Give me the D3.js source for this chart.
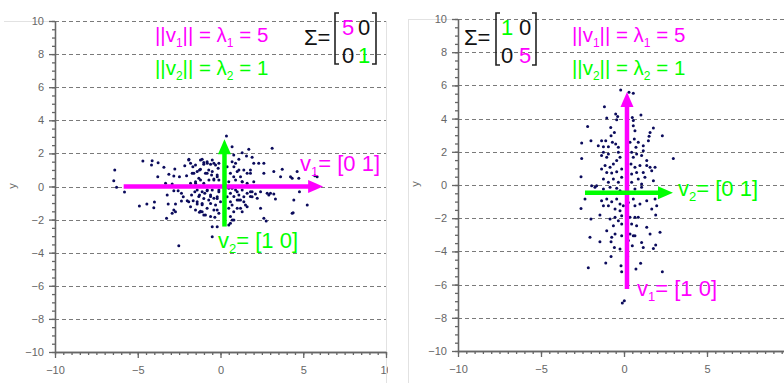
<!DOCTYPE html>
<html>
<head>
<meta charset="utf-8">
<script src="https://cdn.jsdelivr.net/npm/d3@7"></script>
<style>
  body { margin: 0; background: #fff; }
  svg { display: block; font-family: "Liberation Sans", Arial, sans-serif; }
</style>
</head>
<body>
<svg id="chart" width="784" height="383"></svg>
<script>
// axis ticks and grid
const majorTicksY = [-10, -8, -6, -4, -2, 0, 2, 4, 6, 8, 10];
const majorTicksX = [-10, -5, 0, 5, 10];
const minorTicks = d3.range(-10, 10.01, 0.5);
const gridValues = [-8, -6, -4, -2, 0, 2, 4, 6, 8, 10];

// samples, cov = [[5,0],[0,1]]
const leftPoints = [
  [-6.39,1.0],[-6.45,0.35],[-6.28,-0.05],[-5.8,-0.33],[-4.9,-1.18],[-4.45,-1.06],[-3.99,-0.94],[-4.03,-1.28],
  [-4.69,1.54],[-4.13,1.56],[-4.17,1.3],[-3.77,1.44],[-3.42,1.16],[-3.79,0.59],[-3.12,0.74],[-2.76,1.06],
  [-3.32,0.19],[-2.92,0.15],[-3.22,-0.51],[-2.82,-0.25],[-2.56,-0.25],[-2.48,0.59],[-2.82,0.63],[-2.16,1.26],
  [-1.92,1.6],[-1.67,1.2],[-2.05,0.65],[-2.36,-0.41],[-2.25,-0.62],[-2.01,-0.86],[-2.36,-0.88],[-3.16,-1.06],
  [-2.72,-1.06],[-2.82,-1.42],[-2.92,-1.62],[-2.72,-1.52],[-3.26,-1.92],[-2.52,-3.58],[-1.75,-0.51],[-1.55,-0.31],
  [-1.65,-0.86],[-1.92,-0.92],[-1.41,-1.06],[-1.11,-1.02],[-1.27,-1.56],[-1.11,-1.52],[-0.91,-1.72],[-0.5,-2.43],
  [-0.5,-3.03],[-0.34,-1.86],[-0.2,-1.42],[-1.51,0.29],[-1.31,0.5],[-1.61,0.8],[-1.27,1.0],[-1.01,1.34],
  [-0.8,1.4],[-1.11,1.64],[-0.5,1.6],[-0.4,1.4],[-0.71,1.0],[-0.91,0.8],[-0.54,0.69],[-0.4,0.39],
  [-1.01,0.19],[-0.8,-0.21],[-0.6,-0.51],[-0.4,-0.71],[-0.2,-0.62],[-0.71,-0.82],[-0.95,-0.41],[-0.14,1.1],
  [-0.2,0.59],[-0.1,-0.21],[-1.27,-0.51],[-1.81,-1.22],[-1.51,-1.42],
  [0.7,2.4],[0.36,3.05],[1.31,2.04],[1.71,2.25],[1.91,1.76],[1.57,1.84],[1.11,1.64],[0.8,1.9],
  [0.91,1.4],[3.12,2.31],[2.31,1.4],[2.62,1.4],[2.62,0.8],[3.22,0.9],[3.73,1.04],[3.63,0.59],
  [4.23,0.59],[4.63,0.9],[5.84,0.59],[4.73,0.5],[2.82,-0.41],[3.02,-0.41],[3.22,-0.45],[2.92,-0.51],
  [2.42,-0.31],[2.11,-0.45],[1.81,-0.31],[1.91,-0.62],[2.42,-1.32],[3.32,-0.76],[4.43,-0.82],[5.24,-1.12],
  [4.33,-1.62],[2.62,-1.92],[0.71,-2.02],[0.6,-2.22],[0.8,-1.52],[1.21,-1.32],[1.51,-1.12],[1.01,-0.82],
  [0.6,-0.92],[1.11,-0.51],[0.91,-0.21],[0.6,-0.41],[1.31,0.29],[0.8,0.59],[0.6,0.8],[0.5,0.29],
  [1.41,1.0],[1.11,1.0],[1.81,0.8],[2.01,0.29],[1.61,0.19],[1.21,-0.82],[1.41,-0.62],[2.22,-0.71],
  [0.5,-1.32],[0.4,-0.62],[0.5,-0.11],[0.4,1.2],[0.3,0.09],
  [-1.91,1.64],[-1.81,1.4],[-1.51,1.3],[-1.21,1.6],[-1.01,1.45],[-0.81,1.5],[-0.6,1.35],[-0.3,1.3],
  [-0.1,1.4],[-1.21,1.04],[-1.41,0.9],[-1.71,0.8],[-0.81,0.8],[-0.5,0.9],[-0.2,0.69],[-0.1,0.39],
  [-0.4,0.45],[-0.7,0.39],[-1.21,0.39],[-1.51,0.2],[-1.81,0.19],[-1.41,-0.21],[-1.11,-0.31],[-0.81,-0.25],
  [-0.5,-0.21],[-0.1,-0.31],[-1.31,-0.61],[-1.01,-0.72],[-0.6,-0.61],[-0.2,-0.72],[-1.41,-0.92],[-1.11,-1.1],
  [-0.6,-1.02],[-0.3,-1.12],[0.0,-0.92],[-0.81,-1.32],[-0.4,-1.42],[-1.21,-1.5],[-0.1,-1.62],[-0.6,-1.82],
  [-1.01,-1.72],[0.7,1.5],[0.81,1.2],[1.01,0.9],[1.21,0.59],[0.91,0.39],[1.31,0.29],[1.61,0.8],
  [1.81,1.0],[2.01,1.4],[0.7,-0.11],[1.01,-0.31],[1.31,-0.21],[1.61,-0.41],[1.91,-0.31],[0.81,-0.61],
  [1.11,-0.82],[1.41,-0.92],[1.81,-0.61],[0.7,-1.12],[1.01,-1.32],[1.31,-1.52],[1.61,-1.22],[0.6,-1.82],
  [0.81,-2.02],[0.5,-2.33],[2.76,-2.08],[4.77,-0.31],[5.7,0.65],[-0.2,-2.43],[4.39,-1.58],[4.33,0.5]
];

// samples, cov = [[1,0],[0,5]]
const rightPoints = [
  [-0.2,5.72],[0.3,5.58],[0.56,5.52],[-1.18,4.72],[-0.5,4.28],[-0.38,4.13],[-1.04,4.03],[-0.44,3.93],
  [0.5,4.07],[0.56,3.88],[1.02,4.21],[-2.19,3.53],[-0.8,3.47],[-0.58,3.17],[0.56,3.57],[0.66,3.27],
  [1.77,3.43],[1.57,3.17],[2.31,2.97],[-1.99,2.67],[-2.55,2.53],[-1.35,2.67],[-1.1,2.67],[-0.78,2.97],
  [-0.7,2.57],[-0.5,2.47],[-0.94,2.31],[-1.24,2.31],[-1.55,2.37],[-0.34,2.27],[0.62,2.77],[0.36,2.57],
  [0.86,2.57],[0.72,2.27],[1.51,2.93],[1.47,2.67],[1.16,2.37],[-1.24,1.97],[-0.94,1.87],[-1.04,1.67],
  [-1.35,1.77],[-0.34,1.97],[-0.24,1.67],[-0.44,1.47],[-0.64,1.27],[-1.14,1.17],[-0.84,1.07],[-1.35,0.96],
  [-1.04,0.76],[-0.74,0.72],[-0.44,0.8],[-0.14,0.96],[0.46,1.97],[0.76,1.87],[0.56,1.67],[1.06,1.77],
  [1.16,2.07],[0.42,1.27],[0.66,1.07],[0.96,1.17],[0.76,0.76],[0.46,0.66],[1.37,1.17],[1.57,1.07],
  [1.87,1.07],[1.37,1.47],[1.67,0.86],[1.16,0.76],[1.26,0.46],[0.86,0.36],[2.97,1.6],[-2.55,1.6],
  [-2.59,0.5],[-1.95,-0.04],[-1.65,-0.04],[-1.24,0.36],[-0.94,0.16],[-0.64,0.36],[-0.34,0.16],[-0.14,0.46],
  [0.46,0.16],[1.06,0.06],[1.77,0.26],
  [-1.75,-0.14],[-1.24,-0.24],[-0.84,-0.14],[-0.44,-0.2],[-0.24,-0.34],[0.66,-0.24],[1.06,-0.14],[-2.35,-0.85],
  [-2.59,-1.41],[-1.35,-0.95],[-1.04,-0.85],[-0.74,-1.01],[-0.44,-0.85],[-0.24,-1.15],[-0.94,-1.25],[-1.24,-1.25],
  [-0.54,-1.45],[-0.24,-1.55],[-0.04,-1.25],[0.26,-1.05],[0.56,-0.85],[0.66,-1.25],[0.96,-1.15],[1.37,-0.95],
  [1.87,-0.85],[1.67,-1.45],[1.97,-1.25],[1.91,-1.81],[-1.99,-2.05],[-1.45,-1.81],[-0.84,-2.05],[-0.54,-1.95],
  [-0.14,-1.85],[-0.34,-2.15],[-0.64,-2.45],[-0.14,-2.35],[0.36,-1.95],[0.66,-1.95],[0.86,-1.95],[0.46,-2.35],
  [0.76,-2.45],[1.37,-2.55],[-1.04,-2.75],[-0.54,-2.95],[-0.14,-3.05],[0.36,-2.95],[0.56,-3.05],[0.66,-3.05],
  [1.57,-2.95],[2.17,-2.85],[-2.05,-3.15],[-1.45,-3.42],[-0.74,-3.15],[-0.78,-3.42],[-0.58,-3.76],[-0.24,-3.86],
  [0.26,-3.35],[0.5,-3.66],[1.06,-3.46],[1.16,-3.76],[1.77,-3.82],[1.91,-3.62],[-0.78,-4.3],[0.22,-4.32],
  [-1.1,-4.7],[-2.15,-4.98],[-0.18,-4.86],[-0.14,-5.22],[0.72,-5.06],[1.0,-4.72],[2.31,-5.22],[0.02,-6.97],
  [-0.1,-7.11]
];

// principal vectors drawn from the sample mean
const leftArrows = [
  { name: "v1", from: [-5.85, 0.0], to: [6.2, 0.0] },
  { name: "v2", from: [0.24, -2.42], to: [0.24, 2.85] }
];
const rightArrows = [
  { name: "v1", from: [0.18, -6.27], to: [0.18, 5.6] },
  { name: "v2", from: [-2.35, -0.46], to: [2.95, -0.46] }
];

const leftMatrix = [["5", "0"], ["0", "1"]];
const rightMatrix = [["1", "0"], ["0", "5"]];

const MAG = "#ff00ff", GRN = "#00ff00";
const vecColor = { v1: MAG, v2: GRN };

const svg = d3.select("#chart");
const defs = svg.append("defs");

function drawPanel(p) {
  defs.append("clipPath").attr("id", p.id + "-clip")
    .append("rect").attr("x", p.clip[0]).attr("y", 0).attr("width", p.clip[1] - p.clip[0]).attr("height", 383);
  const g = svg.append("g").attr("clip-path", `url(#${p.id}-clip)`);

  const x = d3.scaleLinear().domain([-10, 10]).range([p.x0, p.x1]);
  const y = d3.scaleLinear().domain([-10, 10]).range([p.y1, p.y0]);

  // light frame
  p.frame.forEach(f => {
    g.append("line").attr("x1", f[0]).attr("y1", f[1]).attr("x2", f[2]).attr("y2", f[3])
      .attr("stroke", "#e2e2e2").attr("stroke-width", 1);
  });

  g.append("g").selectAll("line").data(gridValues).enter().append("line")
    .attr("x1", p.x0).attr("x2", p.x1)
    .attr("y1", d => Math.round(y(d)) + 0.5).attr("y2", d => Math.round(y(d)) + 0.5)
    .attr("stroke", "#7a7a7a").attr("stroke-dasharray", "4,3");

  // axes
  const axY = g.append("g").attr("transform", `translate(${p.x0},0)`)
    .call(d3.axisLeft(y).tickValues(majorTicksY).tickSize(6).tickSizeOuter(0).tickPadding(5).tickFormat(d3.format("d")));
  const axYm = g.append("g").attr("transform", `translate(${p.x0},0)`)
    .call(d3.axisLeft(y).tickValues(minorTicks).tickSize(3).tickSizeOuter(0).tickFormat(""));
  const axX = g.append("g").attr("transform", `translate(0,${p.y1})`)
    .call(d3.axisBottom(x).tickValues(majorTicksX).tickSize(6).tickSizeOuter(0).tickPadding(8).tickFormat(d3.format("d")));
  const axXm = g.append("g").attr("transform", `translate(0,${p.y1})`)
    .call(d3.axisBottom(x).tickValues(minorTicks).tickSize(3).tickSizeOuter(0).tickFormat(""));
  [axY, axYm, axX, axXm].forEach(a => {
    a.selectAll("path,line").attr("stroke", "#666").attr("stroke-width", 1.3);
    a.selectAll("text").attr("fill", "#666").style("font-size", "11px").style("font-family", "'Liberation Sans', Arial, sans-serif");
  });

  g.append("text").attr("transform", `translate(${p.yLabel[0]},${p.yLabel[1]}) rotate(-90)`)
    .attr("text-anchor", "middle").attr("fill", "#666").style("font-size", "11px").text("y");
  g.append("text").attr("x", (p.x0 + p.x1) / 2).attr("y", p.y1 + 38)
    .attr("text-anchor", "middle").attr("fill", "#666").style("font-size", "11px").text("x");

  // scatter
  g.append("g").selectAll("circle").data(p.points).enter().append("circle")
    .attr("cx", d => x(d[0])).attr("cy", d => y(d[1])).attr("r", 1.5).attr("fill", "#0b0b5c");

  // arrows
  p.arrows.forEach(a => {
    const x1 = x(a.from[0]), y1 = y(a.from[1]), x2 = x(a.to[0]), y2 = y(a.to[1]);
    const len = Math.hypot(x2 - x1, y2 - y1), ux = (x2 - x1) / len, uy = (y2 - y1) / len;
    const hl = 15, hw = 6.5;
    const bx = x2 - ux * hl, by = y2 - uy * hl;
    g.append("line").attr("x1", x1).attr("y1", y1).attr("x2", bx + ux).attr("y2", by + uy)
      .attr("stroke", vecColor[a.name]).attr("stroke-width", 4.5);
    g.append("path")
      .attr("d", `M${x2},${y2}L${bx - uy * hw},${by + ux * hw}L${bx + uy * hw},${by - ux * hw}Z`)
      .attr("fill", vecColor[a.name]);
  });

  // annotations
  const txt = (parent, px, py, color, parts, size) => {
    const t = parent.append("text").attr("x", px).attr("y", py).attr("fill", color).style("font-size", size + "px");
    let shifted = false;
    parts.forEach(s => {
      const isSub = s.startsWith("_");
      const ts = t.append("tspan").text(isSub ? s.slice(1) : s);
      if (isSub) { ts.attr("dy", 5).style("font-size", Math.round(size * 0.6) + "px"); shifted = true; }
      else if (shifted) { ts.attr("dy", -5); shifted = false; }
    });
    return t;
  };
  txt(g, p.norm[0], p.norm[1], MAG, ["||v", "_1", "|| = λ", "_1", " = 5"], 20.5);
  txt(g, p.norm[0], p.norm[1] + 33, GRN, ["||v", "_2", "|| = λ", "_2", " = 1"], 20.5);
  txt(g, p.sigma[0], p.sigma[1], "#111", ["Σ="], 22);

  const m = p.matrix;
  const cellColor = (v, i, j) => (i === j ? (v === "5" ? MAG : GRN) : "#111");
  p.mat.forEach((row, i) => row.forEach((v, j) => {
    g.append("text").attr("x", m.cols[j]).attr("y", m.rows[i]).attr("fill", cellColor(v, i, j))
      .style("font-size", "22px").text(v);
  }));
  const br = d3.path();
  br.moveTo(m.left + 4, m.top); br.lineTo(m.left, m.top); br.lineTo(m.left, m.bottom); br.lineTo(m.left + 4, m.bottom);
  br.moveTo(m.right - 4, m.top); br.lineTo(m.right, m.top); br.lineTo(m.right, m.bottom); br.lineTo(m.right - 4, m.bottom);
  g.append("path").attr("d", br.toString()).attr("fill", "none").attr("stroke", "#222").attr("stroke-width", 1.6);

  p.vecLabels.forEach(v => {
    txt(g, v.at[0], v.at[1], vecColor[v.name], ["v", "_" + v.name.slice(1), "= " + v.text], 22);
  });
}

drawPanel({
  id: "left", clip: [0, 388], x0: 55, x1: 386, y0: 21, y1: 352,
  frame: [[4, 21.5, 55, 21.5], [386.5, 21, 386.5, 383]],
  yLabel: [16, 186], points: leftPoints, arrows: leftArrows, mat: leftMatrix,
  norm: [155, 42], sigma: [304, 45],
  matrix: { cols: [342, 358], rows: [35, 63], left: 335, right: 376, top: 13, bottom: 64 },
  vecLabels: [{ name: "v1", at: [300, 171], text: "[0 1]" }, { name: "v2", at: [218, 248], text: "[1 0]" }]
});
drawPanel({
  id: "right", clip: [400, 784], x0: 458, x1: 790, y0: 19, y1: 351,
  frame: [[408, 19.5, 458, 19.5], [408.5, 19, 408.5, 383]],
  yLabel: [419, 184], points: rightPoints, arrows: rightArrows, mat: rightMatrix,
  norm: [572, 42], sigma: [464, 45],
  matrix: { cols: [501, 519], rows: [35, 63], left: 496, right: 536, top: 13, bottom: 65 },
  vecLabels: [{ name: "v2", at: [678, 196], text: "[0 1]" }, { name: "v1", at: [637, 296], text: "[1 0]" }]
});
</script>
</body>
</html>
